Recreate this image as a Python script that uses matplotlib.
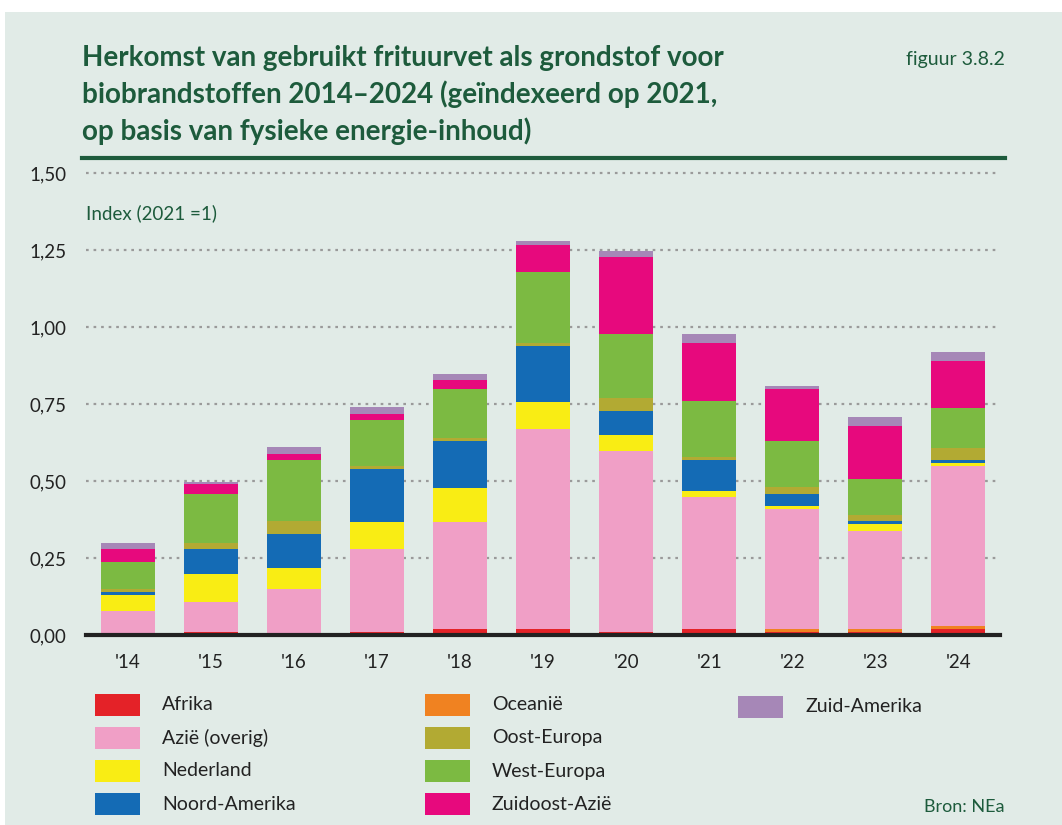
import numpy as np
import matplotlib.pyplot as plt
from matplotlib.patches import Rectangle

plt.rcParams['font.family'] = ['Lato', 'DejaVu Sans']

# data (index, 2021 = 1)
years = ["'14", "'15", "'16", "'17", "'18", "'19", "'20", "'21", "'22", "'23", "'24"]
afrika        = [0.000, 0.010, 0.000, 0.010, 0.020, 0.020, 0.010, 0.020, 0.010, 0.010, 0.020]
oceanie       = [0.000, 0.000, 0.000, 0.000, 0.000, 0.000, 0.000, 0.000, 0.010, 0.010, 0.009]
azie_overig   = [0.078, 0.097, 0.149, 0.269, 0.347, 0.649, 0.587, 0.428, 0.389, 0.318, 0.520]
nederland     = [0.052, 0.091, 0.069, 0.088, 0.110, 0.087, 0.052, 0.020, 0.010, 0.022, 0.009]
noord_amerika = [0.010, 0.081, 0.110, 0.172, 0.153, 0.182, 0.078, 0.100, 0.039, 0.010, 0.010]
oost_europa   = [0.009, 0.019, 0.042, 0.010, 0.010, 0.010, 0.042, 0.010, 0.022, 0.020, 0.039]
west_europa   = [0.088, 0.160, 0.198, 0.149, 0.160, 0.231, 0.208, 0.182, 0.150, 0.116, 0.130]
zuidoost_azie = [0.042, 0.032, 0.020, 0.020, 0.028, 0.087, 0.250, 0.188, 0.169, 0.173, 0.153]
zuid_amerika  = [0.020, 0.007, 0.022, 0.022, 0.019, 0.013, 0.020, 0.029, 0.009, 0.029, 0.029]

series = [
    ('Afrika', afrika, '#e42228'),
    ('Oceanië', oceanie, '#f08221'),
    ('Azië (overig)', azie_overig, '#f09fc6'),
    ('Nederland', nederland, '#f9ed14'),
    ('Noord-Amerika', noord_amerika, '#146bb5'),
    ('Oost-Europa', oost_europa, '#b2aa33'),
    ('West-Europa', west_europa, '#7cba42'),
    ('Zuidoost-Azië', zuidoost_azie, '#e7097d'),
    ('Zuid-Amerika', zuid_amerika, '#a687b7'),
]
legend_cols = [
    ['Afrika', 'Azië (overig)', 'Nederland', 'Noord-Amerika'],
    ['Oceanië', 'Oost-Europa', 'West-Europa', 'Zuidoost-Azië'],
    ['Zuid-Amerika'],
]

green = '#1d5b3c'
bg = '#e1ebe7'

fig = plt.figure(figsize=(10.62, 8.25), dpi=100, facecolor='white')
W, H = 1062, 825
fig.patches.append(Rectangle((5 / W, 0), 1, 1 - 12 / H, transform=fig.transFigure,
                             facecolor=bg, edgecolor='none', zorder=-10))

ax = fig.add_axes([86 / W, 1 - 635 / H, 914 / W, 462 / H])
ax.set_facecolor(bg)
ax.patch.set_alpha(0)

x = np.arange(len(years))
bottom = np.zeros(len(years))
for name, vals, col in series:
    ax.bar(x, vals, bottom=bottom, width=0.65, color=col, linewidth=0, zorder=3)
    bottom += np.array(vals)

ax.set_xlim(-0.5, len(years) - 0.5)
ax.set_ylim(0, 1.5)
ax.set_yticks(np.arange(0, 1.51, 0.25))
ax.set_yticklabels([f'{v:.2f}'.replace('.', ',') for v in np.arange(0, 1.51, 0.25)])
ax.set_xticks(x)
ax.set_xticklabels(years)
ax.tick_params(axis='both', length=0, labelsize=13.5, colors='#222222')
ax.tick_params(axis='y', pad=14)
ax.tick_params(axis='x', pad=14)
for v in np.arange(0.25, 1.51, 0.25):
    ax.axhline(v, color='#9a9a9a', lw=1.6, ls=(0, (1.2, 2.2)), zorder=1, clip_on=False)
for s in ['top', 'right', 'left']:
    ax.spines[s].set_visible(False)
ax.spines['bottom'].set_color('#222222')
ax.spines['bottom'].set_linewidth(3)
ax.spines['bottom'].set_zorder(5)

# titles and notes
fig.text(82 / W, 1 - 45 / H,
         'Herkomst van gebruikt frituurvet als grondstof voor\n'
         'biobrandstoffen 2014–2024 (geïndexeerd op 2021,\n'
         'op basis van fysieke energie-inhoud)',
         fontsize=20, fontweight='bold', color=green, va='top', ha='left', linespacing=1.42)
fig.text(1005 / W, 1 - 60 / H, 'figuur 3.8.2', fontsize=14, color=green, ha='right', va='center')
fig.add_artist(plt.Line2D([82 / W, 1005 / W], [1 - 158 / H, 1 - 158 / H], color=green, lw=3))
fig.text(86 / W, 1 - 213 / H, 'Index (2021 =1)', fontsize=13.5, color=green, ha='left', va='center')
fig.text(1005 / W, 1 - 807 / H, 'Bron: NEa', fontsize=13, color=green, ha='right', va='center')

# legend
colors = {name: col for name, _, col in series}
col_x = [95, 425, 738]
for ci, names in enumerate(legend_cols):
    for ri, name in enumerate(names):
        yc = 705 + ri * 33 + (2 if ci == 2 else 0)
        fig.patches.append(Rectangle((col_x[ci] / W, 1 - (yc + 11) / H), 45 / W, 22 / H,
                                     transform=fig.transFigure, facecolor=colors[name],
                                     edgecolor='none'))
        fig.text((col_x[ci] + 67) / W, 1 - yc / H, name, fontsize=14, color='#222222',
                 ha='left', va='center')

fig.savefig('out.png', dpi=100, facecolor=fig.get_facecolor())
